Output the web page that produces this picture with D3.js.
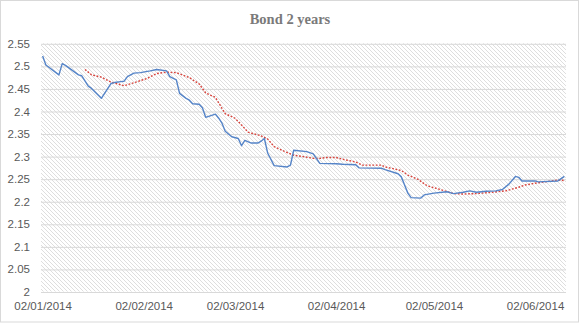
<!DOCTYPE html>
<html><head><meta charset="utf-8">
<script src="https://cdn.jsdelivr.net/npm/d3@7"></script>
<style>html,body{margin:0;padding:0;background:#fff;}svg{display:block;}</style>
</head><body>
<svg id="c" width="580" height="323"></svg>
<script>
const title = "Bond 2 years";
const yTicks = [2, 2.05, 2.1, 2.15, 2.2, 2.25, 2.3, 2.35, 2.4, 2.45, 2.5, 2.55];
const xTickDates = ["2014-01-02","2014-02-02","2014-03-02","2014-04-02","2014-05-02","2014-06-02"];

const bondDates = ["2014-01-02","2014-01-03","2014-01-07","2014-01-08","2014-01-09","2014-01-13","2014-01-14","2014-01-16","2014-01-17","2014-01-20","2014-01-22","2014-01-23","2014-01-24","2014-01-26","2014-01-27","2014-01-28","2014-01-30","2014-02-01","2014-02-04","2014-02-06","2014-02-09","2014-02-10","2014-02-12","2014-02-13","2014-02-15","2014-02-16","2014-02-17","2014-02-19","2014-02-20","2014-02-21","2014-02-24","2014-02-25","2014-02-26","2014-02-27","2014-03-01","2014-03-03","2014-03-04","2014-03-05","2014-03-07","2014-03-09","2014-03-10","2014-03-11","2014-03-12","2014-03-14","2014-03-18","2014-03-19","2014-03-20","2014-03-24","2014-03-26","2014-03-28","2014-04-02","2014-04-04","2014-04-08","2014-04-09","2014-04-16","2014-04-17","2014-04-21","2014-04-22","2014-04-23","2014-04-24","2014-04-25","2014-04-28","2014-04-29","2014-05-02","2014-05-06","2014-05-08","2014-05-11","2014-05-13","2014-05-15","2014-05-18","2014-05-21","2014-05-23","2014-05-25","2014-05-27","2014-05-28","2014-05-29","2014-06-02","2014-06-03","2014-06-09","2014-06-11"];
const bondValues = [2.522,2.502,2.480,2.505,2.501,2.480,2.478,2.455,2.450,2.428,2.450,2.461,2.463,2.465,2.466,2.476,2.484,2.485,2.489,2.492,2.489,2.476,2.469,2.439,2.428,2.424,2.416,2.415,2.407,2.386,2.393,2.384,2.373,2.355,2.343,2.339,2.323,2.335,2.329,2.329,2.333,2.339,2.307,2.279,2.276,2.280,2.313,2.310,2.305,2.284,2.283,2.282,2.281,2.274,2.273,2.270,2.261,2.254,2.236,2.218,2.208,2.207,2.214,2.218,2.221,2.217,2.220,2.223,2.220,2.222,2.223,2.226,2.238,2.255,2.253,2.245,2.245,2.243,2.245,2.255];

const avgDates = ["2014-01-15","2014-01-17","2014-01-20","2014-01-23","2014-01-25","2014-01-27","2014-01-28","2014-01-31","2014-02-03","2014-02-06","2014-02-09","2014-02-12","2014-02-16","2014-02-19","2014-02-21","2014-02-24","2014-02-26","2014-02-27","2014-03-02","2014-03-04","2014-03-06","2014-03-10","2014-03-12","2014-03-14","2014-03-17","2014-03-20","2014-03-23","2014-03-26","2014-03-28","2014-03-30","2014-04-02","2014-04-04","2014-04-08","2014-04-10","2014-04-16","2014-04-17","2014-04-19","2014-04-22","2014-04-24","2014-04-27","2014-04-30","2014-05-04","2014-05-08","2014-05-11","2014-05-15","2014-05-20","2014-05-24","2014-05-28","2014-05-30","2014-06-02","2014-06-05","2014-06-09","2014-06-11"];
const avgValues = [2.492,2.480,2.475,2.464,2.460,2.456,2.458,2.465,2.472,2.483,2.486,2.485,2.474,2.460,2.440,2.430,2.406,2.394,2.384,2.369,2.353,2.345,2.338,2.321,2.311,2.302,2.299,2.295,2.295,2.297,2.297,2.293,2.287,2.280,2.280,2.276,2.273,2.268,2.258,2.249,2.234,2.226,2.217,2.216,2.217,2.220,2.223,2.231,2.236,2.240,2.243,2.247,2.246];

const parse = d3.timeParse("%Y-%m-%d");
const fmt = d3.timeFormat("%d/%m/%Y");
const svg = d3.select("#c");

// chart border
svg.append("rect").attr("x",0.5).attr("y",0.5).attr("width",578).attr("height",321.5)
  .attr("fill","#fff").attr("stroke","#d9d9d9").attr("stroke-width",1);

const L = 41, R = 566, T = 43.3, B = 291.5;
const x = d3.scaleTime()
  .domain([new Date(2014,0,1,12), new Date(2014,5,11,12)])
  .range([L, R]);
const y = d3.scaleLinear().domain([2, 2.55]).range([B, T]);

// hatch pattern
const defs = svg.append("defs");
const pat = defs.append("pattern").attr("id","hatch").attr("patternUnits","userSpaceOnUse")
  .attr("width",4).attr("height",4);
pat.append("path").attr("d","M-1,-1 L5,5 M-1,3 L1,5 M3,-1 L5,1")
  .attr("stroke","#dadada").attr("stroke-width",0.9).attr("fill","none");

svg.append("rect").attr("x",L).attr("y",T).attr("width",R-L).attr("height",B-T)
  .attr("fill","url(#hatch)");

// gridlines
const yAxis = d3.axisLeft(y).tickValues(yTicks).tickSize(-(R-L)).tickPadding(11)
  .tickFormat(d => d3.format("")(+d.toFixed(2)));
const gy = svg.append("g").attr("transform",`translate(${L},0)`).call(yAxis);
gy.select(".domain").remove();
gy.selectAll(".tick line").attr("stroke","#d9d9d9").attr("stroke-width",1)
  .attr("transform","translate(0,0.5)");
gy.selectAll(".tick text").attr("fill","#595959").style("font-family","'Liberation Sans', Arial, sans-serif")
  .style("font-size","11.5px").attr("dy","0.35em");

const xAxis = d3.axisBottom(x).tickValues(xTickDates.map(parse)).tickSize(0).tickPadding(10)
  .tickFormat(fmt);
const gx = svg.append("g").attr("transform",`translate(0,${B})`).call(xAxis);
gx.select(".domain").remove();
gx.selectAll(".tick text").attr("fill","#595959").style("font-family","'Liberation Sans', Arial, sans-serif")
  .style("font-size","11.5px");

// lines
const bond = bondDates.map((d,i) => ({d: parse(d), v: bondValues[i]}));
const avg = avgDates.map((d,i) => ({d: parse(d), v: avgValues[i]}));
const line = d3.line().x(p => x(p.d)).y(p => y(p.v));

svg.append("path").datum(avg).attr("d", line).attr("fill","none")
  .attr("stroke","#d8433c").attr("stroke-width",1.4).attr("stroke-dasharray","1.8,1.6");
svg.append("path").datum(bond).attr("d", line).attr("fill","none")
  .attr("stroke","#5584c8").attr("stroke-width",1.4).attr("stroke-linejoin","round");

svg.append("text").attr("x",290).attr("y",24).attr("text-anchor","middle")
  .style("font-family","'Liberation Serif', 'DejaVu Serif', serif").style("font-weight","bold")
  .style("font-size","14.5px").attr("fill","#7a7a7a").text(title);
</script>
</body></html>
